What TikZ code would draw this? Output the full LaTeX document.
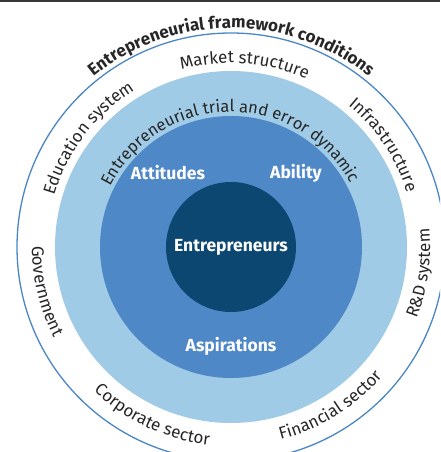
\documentclass[tikz,border=0pt]{standalone}
\usepackage{fontspec}
\setmainfont{Fira Sans}
\usetikzlibrary{decorations.text}
\definecolor{navy}{HTML}{0B4770}
\definecolor{midblue}{HTML}{4F88C7}
\definecolor{lightblue}{HTML}{A0CBE6}
\definecolor{ringline}{HTML}{4A86C6}
\definecolor{ink}{HTML}{262626}
\begin{document}
\begin{tikzpicture}[x=1pt,y=1pt,
    inlabel/.style={text=white,font=\bfseries\fontsize{17.5}{20}\selectfont}]
  \def\rin{65}
  \def\rmid{131}
  \def\rlight{176}
  \def\rout{214}
  \useasboundingbox (-231,-205) rectangle (209,247);
  \clip (-231,-205) rectangle (209,247);
  \fill[black!78] (-231,244.5) rectangle (209,247);
  % rings
  \draw[ringline,line width=1.3] (0,0) circle (\rout);
  \fill[lightblue] (0,0) circle (\rlight);
  \fill[midblue] (0,0) circle (\rmid);
  \fill[navy] (0,0) circle (\rin);
  % outer title
  \path[decorate,decoration={text along path,text align=center,text color=ink,
      text={|\bfseries\fontsize{17}{20}\selectfont|Entrepreneurial framework conditions}}]
    (170:219) arc[start angle=170,end angle=10,radius=219];
  % framework conditions, upper half
  \path[decorate,decoration={text along path,text align=center,text color=ink,
      text={|\fontsize{17}{20}\selectfont|Education system}}]
    (212.7:184) arc[start angle=212.7,end angle=72.7,radius=184];
  \path[decorate,decoration={text along path,text align=center,text color=ink,
      text={|\fontsize{17}{20}\selectfont|Market structure}}]
    (155.7:184) arc[start angle=155.7,end angle=15.7,radius=184];
  \path[decorate,decoration={text along path,text align=center,text color=ink,
      text={|\fontsize{17}{20}\selectfont|Infrastructure}}]
    (103.8:184) arc[start angle=103.8,end angle=-36.2,radius=184];
  % framework conditions, lower half
  \path[decorate,decoration={text along path,text align=center,text color=ink,
      text={|\fontsize{17}{20}\selectfont|R{\&}D system}}]
    (-77.9:199) arc[start angle=-77.9,end angle=62.1,radius=199];
  \path[decorate,decoration={text along path,text align=center,text color=ink,
      text={|\fontsize{17}{20}\selectfont|Financial sector}}]
    (-128:199) arc[start angle=-128,end angle=12,radius=199];
  \path[decorate,decoration={text along path,text align=center,text color=ink,
      text={|\fontsize{17}{20}\selectfont|Corporate sector}}]
    (-185:199) arc[start angle=-185,end angle=-45,radius=199];
  \path[decorate,decoration={text along path,text align=center,text color=ink,
      text={|\fontsize{17}{20}\selectfont|Government}}]
    (123.4:199) arc[start angle=123.4,end angle=263.4,radius=199];
  % dynamic ring
  \path[decorate,decoration={text along path,text align=center,text color=ink,
      text={|\fontsize{16.5}{20}\selectfont|Entrepreneurial trial and error dynamic}}]
    (180.8:135) arc[start angle=180.8,end angle=0.8,radius=135];
  % inner labels
  \node[inlabel] (entre) at (0,0) {Entrepreneurs};
  \node[inlabel] (attitudes) at (-63,74) {Attitudes};
  \node[inlabel] (ability) at (65,74) {Ability};
  \node[inlabel] (aspire) at (0,-99) {Aspirations};
\end{tikzpicture}
\end{document}
